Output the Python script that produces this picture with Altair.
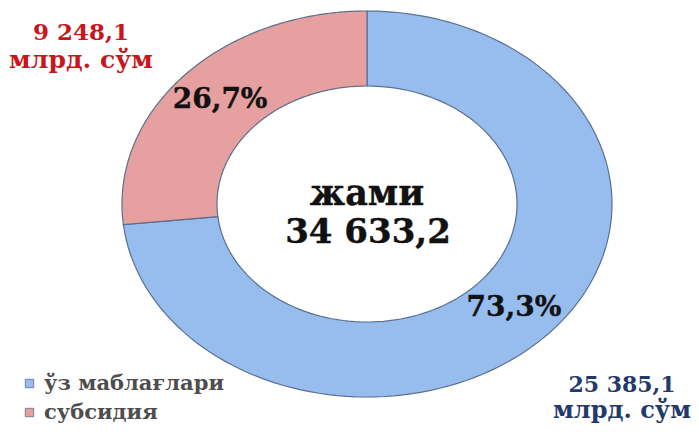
import altair as alt
import pandas as pd

# ---- data ----
categories = ["ўз маблағлари", "субсидия"]
values = [25385.1, 9248.1]          # млрд. сўм
center_word = "жами"
unit_label = "млрд. сўм"

colors = ["#97BDEE", "#E6A09F"]
label_colors = ["#1F3A6B", "#C8161C"]

df = pd.DataFrame({"category": categories, "value": values, "k": [0, 1]})

# ---- geometry (chart pixel space) ----
W, H = 683, 416
CX, CY = 359, 196
RXO, RYO = 245, 193      # outer ellipse radii
RXI, RYI = 150, 118      # inner ellipse radii
RXM, RYM = (RXO + RXI) / 2, (RYO + RYI) / 2
N = 120

xs = alt.Scale(domain=[0, W], range=[0, W])
ys = alt.Scale(domain=[0, H], range=[0, H])

base = alt.Chart(df).transform_joinaggregate(
    total="sum(value)"
).transform_window(
    cum="sum(value)", sort=[alt.SortField("k")], frame=[None, 0]
).transform_calculate(
    a0="(datum.cum - datum.value) / datum.total * 2 * PI",
    a1="datum.cum / datum.total * 2 * PI",
)

ring = base.transform_calculate(
    idx=f"sequence(0, {2 * N + 2})"
).transform_flatten(["idx"]).transform_calculate(
    t=f"datum.idx <= {N} ? datum.a0 + (datum.a1 - datum.a0) * datum.idx / {N} : datum.a1 - (datum.a1 - datum.a0) * (datum.idx - {N + 1}) / {N}",
    rx=f"datum.idx <= {N} ? {RXO} : {RXI}",
    ry=f"datum.idx <= {N} ? {RYO} : {RYI}",
).transform_calculate(
    px=f"{CX} + datum.rx * sin(datum.t)",
    py=f"{CY} - datum.ry * cos(datum.t)",
).mark_line(filled=True, stroke="#5b6f90", strokeWidth=1.2, interpolate="linear-closed").encode(
    x=alt.X("px:Q", scale=xs, axis=None),
    y=alt.Y("py:Q", scale=ys, axis=None),
    order=alt.Order("idx:Q"),
    color=alt.Color(
        "category:N",
        scale=alt.Scale(domain=categories, range=colors),
        sort=categories,
        legend=alt.Legend(
            title=None, orient="none", legendX=11, legendY=365,
            symbolType="square", symbolSize=70, symbolStrokeColor="#5b6f90",
            symbolStrokeWidth=0.8,
            labelFont="DejaVu Serif", labelFontWeight="bold", labelFontSize=21,
            labelColor="#4d4d4d", rowPadding=7, labelOffset=4, labelLimit=400,
        ),
    ),
)

pct = base.transform_calculate(
    mid="(datum.a0 + datum.a1) / 2",
    lab="replace(format(datum.value / datum.total * 100, '.1f'), '.', ',') + '%'",
).transform_calculate(
    lx=f"{CX} + {RXM} * sin(datum.mid)",
    ly=f"{CY} - {RYM} * cos(datum.mid)",
).mark_text(
    font="DejaVu Serif", fontWeight="bold", fontSize=28, color="#111111",
    stroke="#111111", strokeWidth=0.4,
    align="center", baseline="middle",
).encode(
    x=alt.X("lx:Q", scale=xs, axis=None),
    y=alt.Y("ly:Q", scale=ys, axis=None),
    text="lab:N",
)

fmt = "replace(replace(format(datum.value, ',.1f'), ',', ' '), '.', ',')"


def value_label(k, x, y1, y2, size1, size2):
    sub = base.transform_filter(f"datum.k == {k}").transform_calculate(
        lab=fmt, unit=f"'{unit_label}'"
    )
    style = dict(font="DejaVu Serif", fontWeight="bold",
                 color=label_colors[k], align="center", baseline="alphabetic")
    l1 = sub.mark_text(fontSize=size1, **style).encode(
        x=alt.value(x), y=alt.value(y1), text="lab:N")
    l2 = sub.mark_text(fontSize=size2, **style).encode(
        x=alt.value(x), y=alt.value(y2), text="unit:N")
    return l1 + l2


blue_lab = value_label(0, 614, 384, 410, 22, 24)
red_lab = value_label(1, 73, 32, 60, 23, 25)

center = base.transform_aggregate(total="sum(value)").transform_calculate(
    lab="replace(replace(format(datum.total, ',.1f'), ',', ' '), '.', ',')",
    word=f"'{center_word}'",
)
c_style = dict(font="DejaVu Serif", fontWeight="bold", color="#111111",
               stroke="#111111", strokeWidth=0.4,
               align="center", baseline="alphabetic")
c1 = center.mark_text(fontSize=35, **c_style).encode(
    x=alt.value(CX), y=alt.value(197), text="word:N")
c2 = center.mark_text(fontSize=34, **c_style).encode(
    x=alt.value(CX + 1), y=alt.value(235), text="lab:N")

chart = alt.layer(ring, pct, blue_lab, red_lab, c1, c2).properties(
    width=W, height=H, padding=0,
    autosize=alt.AutoSizeParams(type="none"),
    background="white",
).configure_view(stroke=None)

chart.save("out.html", embed_options={"renderer": "svg", "actions": False})
